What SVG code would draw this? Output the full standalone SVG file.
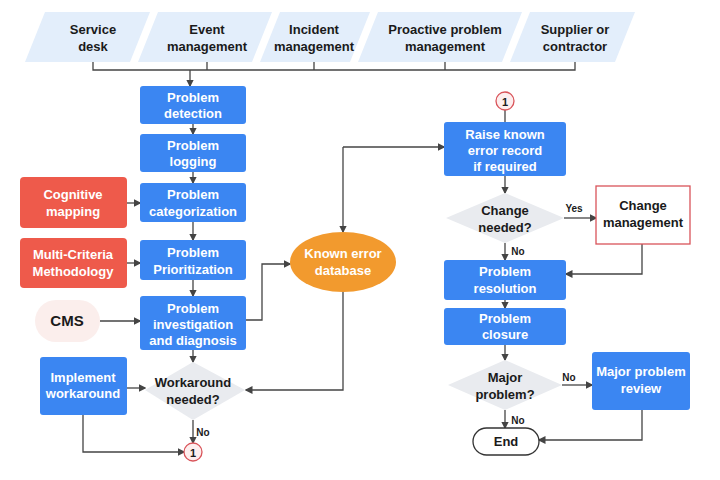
<svg xmlns="http://www.w3.org/2000/svg" width="720" height="480" viewBox="0 0 720 480">
<style>
text{font-family:"Liberation Sans",Arial,sans-serif;font-size:13px;font-weight:bold;text-anchor:middle}
.w{fill:#fff}.k{fill:#1a1a1a}
.b{fill:#3b86f2}.r{fill:#ee5a4b}
.src{fill:#e3eefb}
.dia{fill:#e9ebef}
.c{fill:none;stroke:#444;stroke-width:1.3}
.lab{font-size:10px}
</style>
<defs><marker id="a" markerWidth="6" markerHeight="6" refX="5" refY="3" orient="auto"><path d="M0,0L6,3L0,6z" fill="#444"/></marker></defs>
<rect width="720" height="480" fill="#fff"/>
<g id="sources">
<polygon class="src" points="45,12 150,12 130,62 25,62"/>
<polygon class="src" points="158,12 272,12 252,62 138,62"/>
<polygon class="src" points="280,12 370,12 350,62 260,62"/>
<polygon class="src" points="378,12 522,12 502,62 358,62"/>
<polygon class="src" points="530,12 635,12 615,62 510,62"/>
<text class="k" x="93" y="34">Service</text><text class="k" x="93" y="51">desk</text>
<text class="k" x="207" y="34">Event</text><text class="k" x="207" y="51">management</text>
<text class="k" x="314" y="34">Incident</text><text class="k" x="314" y="51">management</text>
<text class="k" x="445" y="34">Proactive problem</text><text class="k" x="445" y="51">management</text>
<text class="k" x="575" y="34">Supplier or</text><text class="k" x="575" y="51">contractor</text>
</g>
<g id="connectors">
<path class="c" d="M93,62V70H575V62M207,62V70M314,62V70M445,62V70"/>
<path class="c" d="M190,70V86" marker-end="url(#a)"/>
<path class="c" d="M193,124V134" marker-end="url(#a)"/>
<path class="c" d="M193,172V183" marker-end="url(#a)"/>
<path class="c" d="M193,222V240" marker-end="url(#a)"/>
<path class="c" d="M193,280V296" marker-end="url(#a)"/>
<path class="c" d="M193,350V362" marker-end="url(#a)"/>
<path class="c" d="M193,420V443" marker-end="url(#a)"/>
<path class="c" d="M127,203H140" marker-end="url(#a)"/>
<path class="c" d="M127,263H140" marker-end="url(#a)"/>
<path class="c" d="M100,321H140" marker-end="url(#a)"/>
<path class="c" d="M127,388H145" marker-end="url(#a)"/>
<path class="c" d="M83,415V452H184" marker-end="url(#a)"/>
<path class="c" d="M246,320H262V264H290" marker-end="url(#a)"/>
<path class="c" d="M343,147V232" marker-end="url(#a)"/>
<path class="c" d="M343,147H444" marker-end="url(#a)"/>
<path class="c" d="M343,292V390H246" marker-end="url(#a)"/>
<path class="c" d="M505,110V122"/>
<path class="c" d="M505,176V193" marker-end="url(#a)"/>
<path class="c" d="M564,218H596" marker-end="url(#a)"/>
<path class="c" d="M505,243V260" marker-end="url(#a)"/>
<path class="c" d="M642,244V274H566" marker-end="url(#a)"/>
<path class="c" d="M505,300V308" marker-end="url(#a)"/>
<path class="c" d="M505,345V360" marker-end="url(#a)"/>
<path class="c" d="M562,385H592" marker-end="url(#a)"/>
<path class="c" d="M505,410V428" marker-end="url(#a)"/>
<path class="c" d="M642,410V440H539" marker-end="url(#a)"/>
<text class="k lab" x="203" y="436">No</text>
<text class="k lab" x="574" y="212">Yes</text>
<text class="k lab" x="518" y="255">No</text>
<text class="k lab" x="569" y="381">No</text>
<text class="k lab" x="518" y="424">No</text>
</g>
<g id="detection"><rect class="b" x="140" y="86" width="106" height="38" rx="3"/><text class="w" x="193" y="102">Problem</text><text class="w" x="193" y="118">detection</text></g>
<g id="logging"><rect class="b" x="140" y="134" width="106" height="38" rx="3"/><text class="w" x="193" y="150">Problem</text><text class="w" x="193" y="166">logging</text></g>
<g id="categorization"><rect class="b" x="140" y="183" width="106" height="39" rx="3"/><text class="w" x="193" y="199">Problem</text><text class="w" x="193" y="216">categorization</text></g>
<g id="prioritization"><rect class="b" x="140" y="240" width="106" height="40" rx="3"/><text class="w" x="193" y="257">Problem</text><text class="w" x="193" y="274">Prioritization</text></g>
<g id="investigation"><rect class="b" x="140" y="296" width="106" height="54" rx="3"/><text class="w" x="193" y="313">Problem</text><text class="w" x="193" y="329">investigation</text><text class="w" x="193" y="345">and diagnosis</text></g>
<g id="workaround"><polygon class="dia" points="193,362 245,390 193,420 145,390"/><text class="k" x="193" y="387">Workaround</text><text class="k" x="193" y="404">needed?</text></g>
<g id="c1a"><circle cx="193" cy="452" r="9" fill="#fdeeee" stroke="#d9545a" stroke-width="1.3"/><text class="k" x="193" y="457" style="font-size:11px">1</text></g>
<g id="cognitive"><rect class="r" x="20" y="177" width="107" height="51" rx="4"/><text class="w" x="73" y="199">Cognitive</text><text class="w" x="73" y="216">mapping</text></g>
<g id="mcm"><rect class="r" x="20" y="238" width="107" height="50" rx="4"/><text class="w" x="73" y="259">Multi-Criteria</text><text class="w" x="73" y="276">Methodology</text></g>
<g id="cms"><rect x="35" y="300" width="65" height="42" rx="21" fill="#fbeeec"/><text class="k" x="67" y="326" style="font-size:15px">CMS</text></g>
<g id="implement"><rect class="b" x="40" y="357" width="87" height="58" rx="3"/><text class="w" x="83" y="382">Implement</text><text class="w" x="83" y="398">workaround</text></g>
<g id="ked"><ellipse cx="343" cy="262" rx="53" ry="30" fill="#f29a2e"/><text class="w" x="343" y="258">Known error</text><text class="w" x="343" y="275">database</text></g>
<g id="c1b"><circle cx="505" cy="101" r="9" fill="#fdeeee" stroke="#d9545a" stroke-width="1.3"/><text class="k" x="505" y="106" style="font-size:11px">1</text></g>
<g id="raise"><rect class="b" x="444" y="122" width="122" height="54" rx="3"/><text class="w" x="505" y="139">Raise known</text><text class="w" x="505" y="155">error record</text><text class="w" x="505" y="171">if required</text></g>
<g id="change"><polygon class="dia" points="505,193 564,218 505,243 446,218"/><text class="k" x="505" y="215">Change</text><text class="k" x="505" y="232">needed?</text></g>
<g id="cm"><rect x="596" y="186" width="94" height="58" fill="#fff" stroke="#d9545a" stroke-width="1.3"/><text class="k" x="643" y="210">Change</text><text class="k" x="643" y="227">management</text></g>
<g id="resolution"><rect class="b" x="444" y="260" width="122" height="40" rx="3"/><text class="w" x="505" y="276">Problem</text><text class="w" x="505" y="293">resolution</text></g>
<g id="closure"><rect class="b" x="444" y="308" width="122" height="37" rx="3"/><text class="w" x="505" y="323">Problem</text><text class="w" x="505" y="339">closure</text></g>
<g id="major"><polygon class="dia" points="505,360 562,385 505,410 448,385"/><text class="k" x="505" y="382">Major</text><text class="k" x="505" y="399">problem?</text></g>
<g id="review"><rect class="b" x="592" y="352" width="98" height="58" rx="3"/><text class="w" x="641" y="376">Major problem</text><text class="w" x="641" y="393">review</text></g>
<g id="end"><rect x="473" y="428" width="66" height="27" rx="13.5" fill="#fff" stroke="#333" stroke-width="1.3"/><text class="k" x="506" y="446">End</text></g>
</svg>
